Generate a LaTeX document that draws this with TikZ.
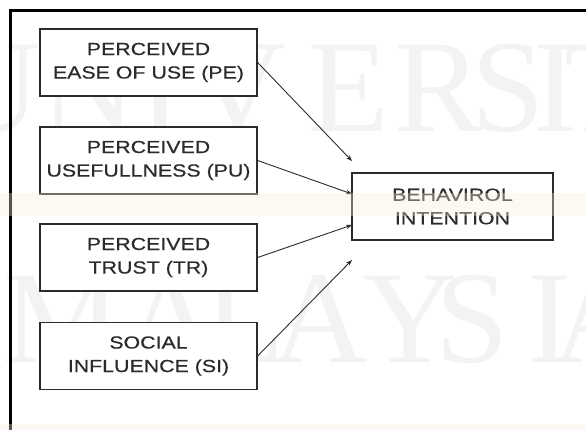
\documentclass[tikz,border=0pt]{standalone}
\usepackage{fontspec}
\usetikzlibrary{arrows.meta}
\newfontfamily\boxfont[FakeStretch=1.22, FakeBold=0.4]{Liberation Sans}
\newfontfamily\markfont{Liberation Serif}
\definecolor{boxline}{HTML}{2B2B2B}
\definecolor{marktext}{HTML}{F3F3F3}
\definecolor{bandfill}{HTML}{FCEBDC}

\tikzset{
    factor/.style = {draw = boxline, line width = 1.3pt, fill = white, text = boxline,
        align = center, minimum width = 217pt, minimum height = 67pt, inner sep = 0pt,
        font = \boxfont\fontsize{17.5}{23.5}\selectfont},
    link/.style = {draw = boxline, line width = 0.9pt, -{Stealth[length = 6pt, width = 4.5pt]}},
    markletter/.style = {text = marktext, anchor = base, inner sep = 0pt,
        font = \markfont\fontsize{132}{132}\selectfont}
}

\begin{document}
\begin{tikzpicture}[x = 1pt, y = -1pt]
        \useasboundingbox (0, 0) rectangle (586, 430);
        % faint lettering in the back
        \foreach \ch/\xx [count = \i] in {U/-7, N/88, I/160, V/238, E/349, R/439, S/508, I/555, T/605}
            \node[markletter] (up\i) at (\xx, 132) {\ch};
        \foreach \ch/\xx [count = \i] in {M/62, A/170, L/245, A/320, Y/410, S/472, I/549, A/600}
            \node[markletter] (low\i) at (\xx, 362) {\ch};
        \draw[line width = 3pt] (10.5, 440) -- (10.5, 11) -- (600, 11);
        % factors
        \node[factor] (PE) at (148.5, 62.5) {PERCEIVED\\EASE OF USE (PE)};
        \node[factor] (PU) at (148.5, 160.5) {PERCEIVED\\USEFULLNESS (PU)};
        \node[factor] (TR) at (148.5, 257.5) {PERCEIVED\\TRUST (TR)};
        \node[factor] (SI) at (148.5, 356) {SOCIAL\\INFLUENCE (SI)};
        \node[factor, minimum width = 201pt] (BI) at (452.5, 206.5) {BEHAVIROL\\INTENTION};
        \coordinate (tipPE) at (352, 161);
        \coordinate (tipPU) at (352, 194);
        \coordinate (tipTR) at (352, 225);
        \coordinate (tipSI) at (352, 260);
        \draw[link] (PE.east) -- (tipPE);
        \draw[link] (PU.east) -- (tipPU);
        \draw[link] (TR.east) -- (tipTR);
        \draw[link] (SI.east) -- (tipSI);
        % light bands across the page
        \fill[bandfill, fill opacity = 0.35] (0, 193) rectangle (586, 216);
        \fill[bandfill, fill opacity = 0.35] (0, 424) rectangle (586, 430);
    \end{tikzpicture}
\end{document}
